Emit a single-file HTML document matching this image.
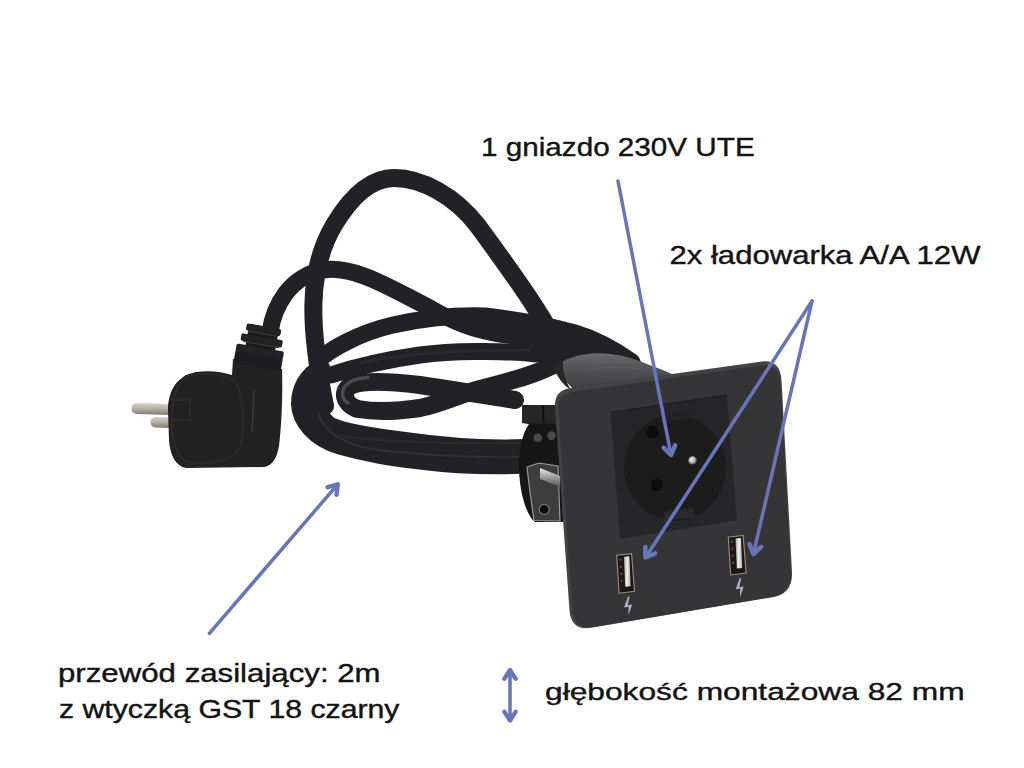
<!DOCTYPE html>
<html><head><meta charset="utf-8">
<style>
html,body{margin:0;padding:0;background:#fff;}
body{width:1024px;height:768px;overflow:hidden;position:relative;}
svg{position:absolute;left:0;top:0;display:block;}
text{font-family:"Liberation Sans",sans-serif;fill:#141414;stroke:#141414;stroke-width:0.4;}
</style></head>
<body>
<svg width="1024" height="768" viewBox="0 0 1024 768">
<rect width="1024" height="768" fill="#ffffff"/>
<defs><filter id="soft" x="-5%" y="-5%" width="110%" height="110%"><feGaussianBlur stdDeviation="0.7"/></filter><filter id="soft2" x="-5%" y="-5%" width="110%" height="110%"><feGaussianBlur stdDeviation="0.5"/></filter></defs>

<!-- ============ CABLES ============ -->
<g id="cables" filter="url(#soft)" fill="none" stroke="#232325" stroke-linecap="round" stroke-linejoin="round">
  <!-- Q -->
  <path d="M 320 359 C 330 350, 358 333, 393 325 C 425 318, 455 315, 485 316 C 520 320, 550 326, 575 333 C 598 340, 615 350, 632 362" stroke-width="17"/>
  <!-- P: plug cable -->
  <path d="M 270 332 C 274 306, 289 277, 323 270 C 355 265, 393 289.5, 429 307.5 C 455 323, 475 330, 500 334 C 530 338, 565 343, 595 350 C 615 355, 628 362, 638 370" stroke-width="17"/>
  <!-- R -->
  <path d="M 331 375 C 355 367, 385 360, 420 355 C 450 351, 500 350, 537 354 C 555 355, 575 356, 595 362" stroke-width="17"/>
  <!-- T loop (S3 upper / S4 lower) -->
  <path d="M 557 363 C 540 373, 515 380, 480 389 C 455 396, 440 404, 420 408 C 400 411, 375 412, 358 409 C 344 405, 340 390, 352 385 C 365 380, 395 382, 420 385 C 460 391, 495 397, 515 400" stroke-width="18"/>
  <!-- outer big loop S6 -->
  <path d="M 321 369 C 307 376, 300.5 390, 300.5 404 C 301 420, 315 438, 340 445 C 365 452, 390 457, 420 460 C 460 465, 490 466, 525 464" stroke-width="19"/>
  <!-- inner loop S5 -->
  <path d="M 318 388 C 315 402, 318 418, 330 426 C 345 433, 372 437, 405 441 C 440 446, 480 450, 525 448" stroke-width="18"/>
  <!-- subtle sheen streaks -->
  <path d="M 318 412 C 322 430, 342 444, 372 449 C 410 454, 470 458, 520 457" stroke="#38383a" stroke-width="2" opacity="0.6"/>
  <path d="M 360 363 C 390 356, 440 350, 530 350" stroke="#333335" stroke-width="2.5" opacity="0.5"/>
  <path d="M 340 436 C 370 440, 430 444, 520 443" stroke="#333335" stroke-width="2.5" opacity="0.45"/>
  <!-- highlight on T loop end -->
  <path d="M 368 377.5 C 355 378, 344 383, 342.5 392 C 342 397, 344 401, 348 403" stroke="#5c5c5e" stroke-width="3.5" opacity="0.7"/>
  <!-- arch -->
  <path d="M 325 406 C 310 330, 306 272, 334 225 C 355 190, 375 178, 394 178 C 422 178, 455 196, 478 226 C 510 270, 546 318, 568 366" stroke-width="18"/>
</g>

<!-- ============ PLUG ============ -->
<g id="plug" filter="url(#soft2)">
  <!-- pins -->
  <path d="M 137 403 L 170 404 L 170 415 L 137 414 Q 131.5 413.5 131.5 408.5 Q 131.5 403 137 403 Z" fill="url(#pinG)"/>
  <path d="M 156 417 L 170 417.5 L 170 428 L 156 427.5 Q 150.5 427 150.5 422 Q 150.5 417 156 417 Z" fill="url(#pinG)"/>
  <!-- body -->
  <path d="M 233 359 L 282 369 C 283 400, 281 430, 279 446 C 277 458, 272 466, 264 467 L 186 468 C 176 466, 170 456, 169 440 L 168 410 C 168 392, 176 376, 196 372 C 210 370, 222 372, 232 375 Z" fill="#202021"/>
  <!-- disc rim -->
  <path d="M 186 376 C 200 372, 220 374, 234 380 C 242 392, 246 420, 240 448 C 232 462, 205 466, 186 462 C 176 455, 172 440, 172 420 C 172 400, 176 384, 186 376 Z" fill="none" stroke="#2c2c2d" stroke-width="2"/>
  <path d="M 170 400 L 190 400 L 190 420 L 170 420" fill="none" stroke="#2e2e2f" stroke-width="1.5"/>
  <!-- groove on body -->
  <path d="M 254 390 L 252 432" stroke="#3a3a3b" stroke-width="1.5"/>
  <!-- strain relief ribs -->
  <g transform="translate(260,350) rotate(10)">
    <rect x="-15" y="-24" width="30" height="38" fill="#1a1a1b"/>
    <rect x="-17.5" y="-24" width="35" height="7" rx="2" fill="#202021"/>
    <rect x="-21" y="-13.5" width="42" height="7.5" rx="2" fill="#202021"/>
    <rect x="-24" y="-2.5" width="48" height="8" rx="2" fill="#202021"/>
    <rect x="-24" y="5" width="48" height="12" fill="#1f1f20"/>
    <path d="M -15 -16.5 L 15 -16.5 M -18 -5.5 L 18 -5.5" stroke="#3a3a3b" stroke-width="1.2"/>
  </g>
</g>

<!-- ============ DEVICE ============ -->
<defs>
  <linearGradient id="collarG" x1="0" y1="0" x2="0" y2="1">
    <stop offset="0" stop-color="#6a6a6c"/>
    <stop offset="0.35" stop-color="#555557"/>
    <stop offset="1" stop-color="#3a3a3c"/>
  </linearGradient>
  <linearGradient id="pinG" x1="0" y1="0" x2="0" y2="1">
    <stop offset="0" stop-color="#d8d4cc"/>
    <stop offset="0.5" stop-color="#b4aea2"/>
    <stop offset="1" stop-color="#7c776e"/>
  </linearGradient>
  <linearGradient id="rodG" x1="0" y1="0" x2="0" y2="1">
    <stop offset="0" stop-color="#e8e8e8"/>
    <stop offset="0.5" stop-color="#9a9a9a"/>
    <stop offset="1" stop-color="#555"/>
  </linearGradient>
  <linearGradient id="tongueG" x1="0" y1="0" x2="1" y2="0">
    <stop offset="0" stop-color="#9c968c"/>
    <stop offset="0.45" stop-color="#f2f0ea"/>
    <stop offset="1" stop-color="#b8b4ac"/>
  </linearGradient>
  <radialGradient id="gpin" cx="0.4" cy="0.4" r="0.6">
    <stop offset="0" stop-color="#f4f2ee"/>
    <stop offset="0.6" stop-color="#b8b2a8"/>
    <stop offset="1" stop-color="#5c5850"/>
  </radialGradient>
</defs>
<g id="device" filter="url(#soft2)">
  <!-- clamp bracket (black) -->
  <path d="M 522 405 L 557 405 L 562 410 L 563 522 L 535 522 C 527 516, 520 495, 519 470 C 519 448, 522 434, 529 424 L 522 423 Z" fill="#161617"/>
  <path d="M 522 405 L 557 405 L 558 424 L 522 423 Z" fill="#262627"/>
  <path d="M 543 405 L 543.5 423" stroke="#0c0c0c" stroke-width="1.6"/>
  <circle cx="537.8" cy="437.8" r="4.3" fill="#4a4a4c"/>
  <circle cx="551.5" cy="435.6" r="4.3" fill="#4a4a4c"/>
  <!-- silver L bracket -->
  <path d="M 527 467 L 539 463 L 558 466 L 560 521 L 534 520.5 C 531 500, 529 485, 527 467 Z" fill="#3c3c3e" stroke="#9a9a9a" stroke-width="1.2"/>
  <path d="M 540 468 L 560 476 L 560 487 L 540 479 Z" fill="url(#rodG)"/>
  <circle cx="544.2" cy="509.4" r="5" fill="#0a0a0a" stroke="#7a7a7a" stroke-width="1.2"/>
  <!-- collar -->
  <path d="M 556 366 C 565 359, 576 355, 592 353.5 C 612 352, 632 357, 652 366 C 660 369, 666 371, 672 374 L 674 382 L 578 393 C 569 386, 561 376, 556 366 Z" fill="url(#collarG)"/>
  <path d="M 553 366 C 556 363, 559 361, 563 359.5 C 562 370, 565 380, 571 390 C 563 385, 557 377, 553 366 Z" fill="#262627"/>
  <path d="M 580 372 C 600 366, 630 364, 660 374" stroke="#7a7268" stroke-width="0.6" fill="none" opacity="0.5"/>
  <!-- plate -->
  <path id="plateP" d="M 571.5 388 L 762 361.5 Q 780 359.5 781.5 380 L 792 572 Q 793 594.5 771 597.5 L 591 627.8 Q 570.5 631 569.4 609 L 555 407 Q 554 390 571.5 388 Z" fill="#434346"/>
  <path d="M 571.5 388 L 762 361.5 Q 780 359.5 781.5 380 L 792 572 Q 793 594.5 771 597.5 L 591 627.8 Q 570.5 631 569.4 609 L 555 407 Q 554 390 571.5 388 Z" fill="#363639" transform="translate(674,495) scale(0.982) translate(-673,-493.5)"/>
  <!-- socket inset -->
  <path d="M 610.5 412.5 L 727 395 L 737 520.5 L 620 539 Z" fill="#28282a"/>
  <path d="M 610.5 412.5 L 727 395" stroke="#202022" stroke-width="1.5"/>
  <!-- socket circle -->
  <ellipse cx="675" cy="467.5" rx="51" ry="53" fill="#1b1b1c"/>
  <!-- schuko notches -->
  <path d="M 660 415 L 690 411 L 691 419 L 661 423 Z" fill="#242426"/>
  <path d="M 664 512 L 694 508 L 695 517 L 665 521 Z" fill="#2c2c2e"/>
  <circle cx="652.5" cy="432" r="6" fill="#0a0a0a"/>
  <circle cx="657" cy="485" r="6" fill="#0a0a0a"/>
  <circle cx="692.6" cy="460.4" r="4.2" fill="url(#gpin)"/>
  <!-- USB left -->
  <g id="usbL">
    <path d="M 616.7 555.2 L 631.6 553.7 L 634.5 591.3 L 619.1 593.2 Z" fill="#1c1916" stroke="#9a9080" stroke-width="1.1"/>
    <path d="M 623.9 556.8 L 629.4 556.3 L 630.6 586.3 L 625.2 586.8 Z" fill="url(#tongueG)"/>
    <path d="M 619.5 560 L 621.5 559.8 M 619.8 567 L 621.8 566.8 M 620.2 574 L 622.2 573.8 M 620.6 581 L 622.6 580.8" stroke="#5a4e3c" stroke-width="2"/>
    <path d="M 628.0 596.5 L 624.0 607.6 L 628.6 606.8 L 628.4 615.6 L 632.2 604.6 L 627.8 605.2 L 629.6 596.5 Z" fill="#a9afbd"/>
  </g>
  <use href="#usbL" transform="translate(111.6,-18.2)"/>
</g>

<!-- ============ ARROWS ============ -->
<g id="arrows" fill="none" stroke="#6775b9" stroke-width="3.5" stroke-linecap="round" stroke-linejoin="round">
  <line x1="618" y1="181" x2="671" y2="455"/>
  <polyline points="675.1,445.3 671.0,455.0 663.6,447.6" stroke-width="4.5"/>
  <line x1="812" y1="301" x2="645.5" y2="557.5"/>
  <polyline points="655.2,553.4 645.5,557.5 645.3,547.0" stroke-width="4.5"/>
  <line x1="812" y1="301" x2="753.4" y2="554"/>
  <polyline points="761.1,546.8 753.4,554.0 749.6,544.2" stroke-width="4.5"/>
  <line x1="209.4" y1="633.3" x2="337.7" y2="484.4"/>
  <polyline points="327.6,487.2 337.7,484.4 336.5,494.8" stroke-width="4.5"/>
  <line x1="510" y1="670" x2="510" y2="720.5"/>
  <polyline points="504.3,678.8 510.0,670.0 515.7,678.8" stroke-width="4.3"/>
  <polyline points="515.7,711.7 510.0,720.5 504.3,711.7" stroke-width="4.3"/>
</g>

<!-- ============ TEXT ============ -->
<g id="labels">
  <text x="481" y="156.1" font-size="26" textLength="273.7" lengthAdjust="spacingAndGlyphs">1 gniazdo 230V UTE</text>
  <text x="669.5" y="264.4" font-size="26" textLength="311" lengthAdjust="spacingAndGlyphs">2x ładowarka A/A 12W</text>
  <text x="58" y="682" font-size="25" textLength="322.6" lengthAdjust="spacingAndGlyphs">przewód zasilający: 2m</text>
  <text x="59" y="717.9" font-size="25" textLength="340.5" lengthAdjust="spacingAndGlyphs">z wtyczką GST 18 czarny</text>
  <text x="545" y="700.1" font-size="24.5" textLength="419.6" lengthAdjust="spacingAndGlyphs">głębokość montażowa 82 mm</text>
</g>
</svg>
</body></html>
